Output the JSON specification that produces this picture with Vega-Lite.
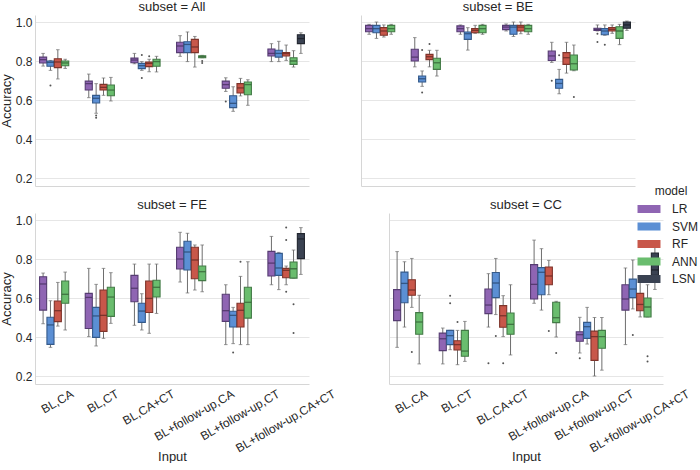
{
  "$schema": "https://vega.github.io/schema/vega-lite/v6.json",
  "padding": {"left": 0, "top": 1, "right": 0, "bottom": 0},
  "background": "white",
  "datasets": {
    "boxes": [
      {"subset":"All","input":"BL,CA","model":"LR","lo":0.774,"q1":0.79,"median":0.807,"q3":0.82,"hi":0.839},
      {"subset":"All","input":"BL,CA","model":"SVM","lo":0.752,"q1":0.773,"median":0.793,"q3":0.8,"hi":0.803},
      {"subset":"All","input":"BL,CA","model":"RF","lo":0.708,"q1":0.766,"median":0.795,"q3":0.812,"hi":0.858},
      {"subset":"All","input":"BL,CA","model":"ANN","lo":0.762,"q1":0.776,"median":0.79,"q3":0.8,"hi":0.809},
      {"subset":"All","input":"BL,CT","model":"LR","lo":0.612,"q1":0.651,"median":0.684,"q3":0.697,"hi":0.733},
      {"subset":"All","input":"BL,CT","model":"SVM","lo":0.532,"q1":0.585,"median":0.609,"q3":0.624,"hi":0.684},
      {"subset":"All","input":"BL,CT","model":"RF","lo":0.624,"q1":0.651,"median":0.665,"q3":0.68,"hi":0.713},
      {"subset":"All","input":"BL,CT","model":"ANN","lo":0.595,"q1":0.622,"median":0.651,"q3":0.677,"hi":0.716},
      {"subset":"All","input":"BL,CA+CT","model":"LR","lo":0.786,"q1":0.791,"median":0.805,"q3":0.815,"hi":0.839},
      {"subset":"All","input":"BL,CA+CT","model":"SVM","lo":0.752,"q1":0.761,"median":0.776,"q3":0.788,"hi":0.797},
      {"subset":"All","input":"BL,CA+CT","model":"RF","lo":0.745,"q1":0.771,"median":0.788,"q3":0.795,"hi":0.809},
      {"subset":"All","input":"BL,CA+CT","model":"ANN","lo":0.744,"q1":0.773,"median":0.797,"q3":0.809,"hi":0.824},
      {"subset":"All","input":"BL+follow-up,CA","model":"LR","lo":0.824,"q1":0.843,"median":0.877,"q3":0.896,"hi":0.93},
      {"subset":"All","input":"BL+follow-up,CA","model":"SVM","lo":0.797,"q1":0.843,"median":0.885,"q3":0.899,"hi":0.949},
      {"subset":"All","input":"BL+follow-up,CA","model":"RF","lo":0.769,"q1":0.843,"median":0.872,"q3":0.911,"hi":0.926},
      {"subset":"All","input":"BL+follow-up,CA","model":"ANN","lo":0.817,"q1":0.817,"median":0.822,"q3":0.827,"hi":0.829},
      {"subset":"All","input":"BL+follow-up,CT","model":"LR","lo":0.644,"q1":0.66,"median":0.679,"q3":0.697,"hi":0.714},
      {"subset":"All","input":"BL+follow-up,CT","model":"SVM","lo":0.542,"q1":0.561,"median":0.583,"q3":0.622,"hi":0.668},
      {"subset":"All","input":"BL+follow-up,CT","model":"RF","lo":0.621,"q1":0.636,"median":0.662,"q3":0.684,"hi":0.711},
      {"subset":"All","input":"BL+follow-up,CT","model":"ANN","lo":0.573,"q1":0.627,"median":0.679,"q3":0.692,"hi":0.704},
      {"subset":"All","input":"BL+follow-up,CA+CT","model":"LR","lo":0.797,"q1":0.826,"median":0.839,"q3":0.862,"hi":0.889},
      {"subset":"All","input":"BL+follow-up,CA+CT","model":"SVM","lo":0.797,"q1":0.82,"median":0.839,"q3":0.855,"hi":0.901},
      {"subset":"All","input":"BL+follow-up,CA+CT","model":"RF","lo":0.803,"q1":0.826,"median":0.838,"q3":0.844,"hi":0.882},
      {"subset":"All","input":"BL+follow-up,CA+CT","model":"ANN","lo":0.769,"q1":0.783,"median":0.8,"q3":0.817,"hi":0.853},
      {"subset":"All","input":"BL+follow-up,CA+CT","model":"LSN","lo":0.839,"q1":0.889,"median":0.915,"q3":0.935,"hi":0.945},

      {"subset":"BE","input":"BL,CA","model":"LR","lo":0.937,"q1":0.95,"median":0.966,"q3":0.983,"hi":0.988},
      {"subset":"BE","input":"BL,CA","model":"SVM","lo":0.916,"q1":0.945,"median":0.966,"q3":0.983,"hi":1.0},
      {"subset":"BE","input":"BL,CA","model":"RF","lo":0.923,"q1":0.932,"median":0.954,"q3":0.971,"hi":0.985},
      {"subset":"BE","input":"BL,CA","model":"ANN","lo":0.937,"q1":0.95,"median":0.966,"q3":0.983,"hi":0.988},
      {"subset":"BE","input":"BL,CT","model":"LR","lo":0.77,"q1":0.8,"median":0.82,"q3":0.86,"hi":0.92},
      {"subset":"BE","input":"BL,CT","model":"SVM","lo":0.67,"q1":0.692,"median":0.709,"q3":0.723,"hi":0.749},
      {"subset":"BE","input":"BL,CT","model":"RF","lo":0.77,"q1":0.807,"median":0.822,"q3":0.834,"hi":0.855},
      {"subset":"BE","input":"BL,CT","model":"ANN","lo":0.723,"q1":0.757,"median":0.791,"q3":0.814,"hi":0.855},
      {"subset":"BE","input":"BL,CA+CT","model":"LR","lo":0.937,"q1":0.95,"median":0.966,"q3":0.98,"hi":0.985},
      {"subset":"BE","input":"BL,CA+CT","model":"SVM","lo":0.856,"q1":0.911,"median":0.94,"q3":0.949,"hi":0.971},
      {"subset":"BE","input":"BL,CA+CT","model":"RF","lo":0.942,"q1":0.945,"median":0.957,"q3":0.966,"hi":0.983},
      {"subset":"BE","input":"BL,CA+CT","model":"ANN","lo":0.937,"q1":0.945,"median":0.966,"q3":0.983,"hi":0.988},
      {"subset":"BE","input":"BL+follow-up,CA","model":"LR","lo":0.954,"q1":0.961,"median":0.974,"q3":0.983,"hi":0.99},
      {"subset":"BE","input":"BL+follow-up,CA","model":"SVM","lo":0.926,"q1":0.937,"median":0.974,"q3":0.983,"hi":1.0},
      {"subset":"BE","input":"BL+follow-up,CA","model":"RF","lo":0.94,"q1":0.954,"median":0.974,"q3":0.983,"hi":1.0},
      {"subset":"BE","input":"BL+follow-up,CA","model":"ANN","lo":0.937,"q1":0.95,"median":0.966,"q3":0.983,"hi":0.988},
      {"subset":"BE","input":"BL+follow-up,CT","model":"LR","lo":0.793,"q1":0.803,"median":0.826,"q3":0.851,"hi":0.896},
      {"subset":"BE","input":"BL+follow-up,CT","model":"SVM","lo":0.632,"q1":0.66,"median":0.685,"q3":0.706,"hi":0.757},
      {"subset":"BE","input":"BL+follow-up,CT","model":"RF","lo":0.738,"q1":0.783,"median":0.817,"q3":0.843,"hi":0.896},
      {"subset":"BE","input":"BL+follow-up,CT","model":"ANN","lo":0.75,"q1":0.754,"median":0.786,"q3":0.831,"hi":0.882},
      {"subset":"BE","input":"BL+follow-up,CA+CT","model":"LR","lo":0.954,"q1":0.957,"median":0.962,"q3":0.968,"hi":0.985},
      {"subset":"BE","input":"BL+follow-up,CA+CT","model":"SVM","lo":0.932,"q1":0.935,"median":0.954,"q3":0.966,"hi":0.985},
      {"subset":"BE","input":"BL+follow-up,CA+CT","model":"RF","lo":0.942,"q1":0.954,"median":0.962,"q3":0.971,"hi":0.985},
      {"subset":"BE","input":"BL+follow-up,CA+CT","model":"ANN","lo":0.884,"q1":0.916,"median":0.954,"q3":0.976,"hi":0.988},
      {"subset":"BE","input":"BL+follow-up,CA+CT","model":"LSN","lo":0.957,"q1":0.968,"median":0.985,"q3":1.0,"hi":1.005},

      {"subset":"FE","input":"BL,CA","model":"LR","lo":0.468,"q1":0.538,"median":0.672,"q3":0.709,"hi":0.728},
      {"subset":"FE","input":"BL,CA","model":"SVM","lo":0.347,"q1":0.362,"median":0.462,"q3":0.501,"hi":0.586},
      {"subset":"FE","input":"BL,CA","model":"RF","lo":0.456,"q1":0.479,"median":0.535,"q3":0.585,"hi":0.68},
      {"subset":"FE","input":"BL,CA","model":"ANN","lo":0.436,"q1":0.573,"median":0.619,"q3":0.687,"hi":0.733},
      {"subset":"FE","input":"BL,CT","model":"LR","lo":0.402,"q1":0.444,"median":0.603,"q3":0.624,"hi":0.752},
      {"subset":"FE","input":"BL,CT","model":"SVM","lo":0.354,"q1":0.398,"median":0.508,"q3":0.552,"hi":0.67},
      {"subset":"FE","input":"BL,CT","model":"RF","lo":0.393,"q1":0.429,"median":0.511,"q3":0.641,"hi":0.752},
      {"subset":"FE","input":"BL,CT","model":"ANN","lo":0.47,"q1":0.506,"median":0.605,"q3":0.655,"hi":0.73},
      {"subset":"FE","input":"BL,CA+CT","model":"LR","lo":0.46,"q1":0.581,"median":0.65,"q3":0.716,"hi":0.774},
      {"subset":"FE","input":"BL,CA+CT","model":"SVM","lo":0.436,"q1":0.475,"median":0.533,"q3":0.573,"hi":0.622},
      {"subset":"FE","input":"BL,CA+CT","model":"RF","lo":0.419,"q1":0.526,"median":0.598,"q3":0.687,"hi":0.774},
      {"subset":"FE","input":"BL,CA+CT","model":"ANN","lo":0.521,"q1":0.605,"median":0.655,"q3":0.691,"hi":0.774},
      {"subset":"FE","input":"BL+follow-up,CA","model":"LR","lo":0.682,"q1":0.749,"median":0.8,"q3":0.86,"hi":0.937},
      {"subset":"FE","input":"BL+follow-up,CA","model":"SVM","lo":0.626,"q1":0.744,"median":0.836,"q3":0.891,"hi":0.932},
      {"subset":"FE","input":"BL+follow-up,CA","model":"RF","lo":0.641,"q1":0.699,"median":0.795,"q3":0.86,"hi":0.872},
      {"subset":"FE","input":"BL+follow-up,CA","model":"ANN","lo":0.632,"q1":0.689,"median":0.735,"q3":0.764,"hi":0.872},
      {"subset":"FE","input":"BL+follow-up,CT","model":"LR","lo":0.361,"q1":0.48,"median":0.535,"q3":0.619,"hi":0.668},
      {"subset":"FE","input":"BL+follow-up,CT","model":"SVM","lo":0.366,"q1":0.451,"median":0.511,"q3":0.532,"hi":0.552},
      {"subset":"FE","input":"BL+follow-up,CT","model":"RF","lo":0.361,"q1":0.451,"median":0.537,"q3":0.573,"hi":0.711},
      {"subset":"FE","input":"BL+follow-up,CT","model":"ANN","lo":0.361,"q1":0.497,"median":0.578,"q3":0.655,"hi":0.786},
      {"subset":"FE","input":"BL+follow-up,CA+CT","model":"LR","lo":0.668,"q1":0.713,"median":0.779,"q3":0.839,"hi":0.916},
      {"subset":"FE","input":"BL+follow-up,CA+CT","model":"SVM","lo":0.643,"q1":0.716,"median":0.754,"q3":0.829,"hi":0.834},
      {"subset":"FE","input":"BL+follow-up,CA+CT","model":"RF","lo":0.668,"q1":0.704,"median":0.742,"q3":0.752,"hi":0.764},
      {"subset":"FE","input":"BL+follow-up,CA+CT","model":"ANN","lo":0.702,"q1":0.702,"median":0.75,"q3":0.785,"hi":0.846},
      {"subset":"FE","input":"BL+follow-up,CA+CT","model":"LSN","lo":0.721,"q1":0.802,"median":0.903,"q3":0.93,"hi":0.961},

      {"subset":"CC","input":"BL,CA","model":"LR","lo":0.347,"q1":0.484,"median":0.538,"q3":0.643,"hi":0.838},
      {"subset":"CC","input":"BL,CA","model":"SVM","lo":0.451,"q1":0.576,"median":0.675,"q3":0.733,"hi":0.786},
      {"subset":"CC","input":"BL,CA","model":"RF","lo":0.552,"q1":0.614,"median":0.641,"q3":0.694,"hi":0.803},
      {"subset":"CC","input":"BL,CA","model":"ANN","lo":0.262,"q1":0.414,"median":0.477,"q3":0.525,"hi":0.614},
      {"subset":"CC","input":"BL,CT","model":"LR","lo":0.262,"q1":0.33,"median":0.391,"q3":0.42,"hi":0.446},
      {"subset":"CC","input":"BL,CT","model":"SVM","lo":0.335,"q1":0.361,"median":0.407,"q3":0.434,"hi":0.434},
      {"subset":"CC","input":"BL,CT","model":"RF","lo":0.258,"q1":0.333,"median":0.361,"q3":0.381,"hi":0.434},
      {"subset":"CC","input":"BL,CT","model":"ANN","lo":0.275,"q1":0.301,"median":0.328,"q3":0.434,"hi":0.48},
      {"subset":"CC","input":"BL,CA+CT","model":"LR","lo":0.451,"q1":0.52,"median":0.564,"q3":0.646,"hi":0.725},
      {"subset":"CC","input":"BL,CA+CT","model":"SVM","lo":0.515,"q1":0.602,"median":0.677,"q3":0.731,"hi":0.803},
      {"subset":"CC","input":"BL,CA+CT","model":"RF","lo":0.402,"q1":0.45,"median":0.509,"q3":0.561,"hi":0.612},
      {"subset":"CC","input":"BL,CA+CT","model":"ANN","lo":0.308,"q1":0.414,"median":0.465,"q3":0.523,"hi":0.668},
      {"subset":"CC","input":"BL+follow-up,CA","model":"LR","lo":0.573,"q1":0.595,"median":0.67,"q3":0.771,"hi":0.897},
      {"subset":"CC","input":"BL+follow-up,CA","model":"SVM","lo":0.538,"q1":0.617,"median":0.732,"q3":0.756,"hi":0.853},
      {"subset":"CC","input":"BL+follow-up,CA","model":"RF","lo":0.617,"q1":0.668,"median":0.713,"q3":0.759,"hi":0.793},
      {"subset":"CC","input":"BL+follow-up,CA","model":"ANN","lo":0.4,"q1":0.474,"median":0.499,"q3":0.578,"hi":0.583},
      {"subset":"CC","input":"BL+follow-up,CT","model":"LR","lo":0.318,"q1":0.378,"median":0.412,"q3":0.427,"hi":0.501},
      {"subset":"CC","input":"BL+follow-up,CT","model":"SVM","lo":0.364,"q1":0.393,"median":0.453,"q3":0.475,"hi":0.552},
      {"subset":"CC","input":"BL+follow-up,CT","model":"RF","lo":0.2,"q1":0.28,"median":0.402,"q3":0.43,"hi":0.5},
      {"subset":"CC","input":"BL+follow-up,CT","model":"ANN","lo":0.23,"q1":0.342,"median":0.402,"q3":0.434,"hi":0.5},
      {"subset":"CC","input":"BL+follow-up,CA+CT","model":"LR","lo":0.361,"q1":0.538,"median":0.595,"q3":0.668,"hi":0.754},
      {"subset":"CC","input":"BL+follow-up,CA+CT","model":"SVM","lo":0.544,"q1":0.602,"median":0.646,"q3":0.697,"hi":0.795},
      {"subset":"CC","input":"BL+follow-up,CA+CT","model":"RF","lo":0.503,"q1":0.535,"median":0.567,"q3":0.624,"hi":0.68},
      {"subset":"CC","input":"BL+follow-up,CA+CT","model":"ANN","lo":0.503,"q1":0.503,"median":0.554,"q3":0.6,"hi":0.668},
      {"subset":"CC","input":"BL+follow-up,CA+CT","model":"LSN","lo":0.644,"q1":0.716,"median":0.744,"q3":0.831,"hi":0.86}
    ],
    "outliers": [
      {"subset":"All","input":"BL,CA","model":"SVM","v":0.674},
      {"subset":"All","input":"BL,CT","model":"SVM","v":0.521},
      {"subset":"All","input":"BL,CT","model":"SVM","v":0.509},
      {"subset":"All","input":"BL,CA+CT","model":"SVM","v":0.831},
      {"subset":"All","input":"BL,CA+CT","model":"SVM","v":0.713},
      {"subset":"All","input":"BL,CA+CT","model":"RF","v":0.824},
      {"subset":"All","input":"BL+follow-up,CA","model":"ANN","v":0.8},
      {"subset":"All","input":"BL+follow-up,CA","model":"ANN","v":0.79},
      {"subset":"All","input":"BL+follow-up,CT","model":"LR","v":0.593},
      {"subset":"BE","input":"BL,CT","model":"SVM","v":0.856},
      {"subset":"BE","input":"BL,CT","model":"SVM","v":0.639},
      {"subset":"BE","input":"BL,CT","model":"RF","v":0.887},
      {"subset":"BE","input":"BL+follow-up,CT","model":"LR","v":0.699},
      {"subset":"BE","input":"BL+follow-up,CT","model":"SVM","v":0.829},
      {"subset":"BE","input":"BL+follow-up,CT","model":"ANN","v":0.615},
      {"subset":"BE","input":"BL+follow-up,CA+CT","model":"LR","v":0.94},
      {"subset":"BE","input":"BL+follow-up,CA+CT","model":"LR","v":0.897},
      {"subset":"BE","input":"BL+follow-up,CA+CT","model":"SVM","v":0.884},
      {"subset":"FE","input":"BL+follow-up,CT","model":"SVM","v":0.32},
      {"subset":"FE","input":"BL+follow-up,CT","model":"RF","v":0.786},
      {"subset":"FE","input":"BL+follow-up,CA+CT","model":"RF","v":0.961},
      {"subset":"FE","input":"BL+follow-up,CA+CT","model":"RF","v":0.897},
      {"subset":"FE","input":"BL+follow-up,CA+CT","model":"RF","v":0.632},
      {"subset":"FE","input":"BL+follow-up,CA+CT","model":"ANN","v":0.568},
      {"subset":"FE","input":"BL+follow-up,CA+CT","model":"ANN","v":0.42},
      {"subset":"CC","input":"BL,CA","model":"RF","v":0.323},
      {"subset":"CC","input":"BL,CT","model":"SVM","v":0.612},
      {"subset":"CC","input":"BL,CT","model":"SVM","v":0.573},
      {"subset":"CC","input":"BL,CT","model":"RF","v":0.477},
      {"subset":"CC","input":"BL,CA+CT","model":"LR","v":0.265},
      {"subset":"CC","input":"BL,CA+CT","model":"SVM","v":0.405},
      {"subset":"CC","input":"BL,CA+CT","model":"RF","v":0.265},
      {"subset":"CC","input":"BL+follow-up,CA","model":"RF","v":0.431},
      {"subset":"CC","input":"BL+follow-up,CA","model":"ANN","v":0.318},
      {"subset":"CC","input":"BL+follow-up,CT","model":"LR","v":0.291},
      {"subset":"CC","input":"BL+follow-up,CA+CT","model":"SVM","v":0.41},
      {"subset":"CC","input":"BL+follow-up,CA+CT","model":"ANN","v":0.301},
      {"subset":"CC","input":"BL+follow-up,CA+CT","model":"ANN","v":0.275}
    ]
  },
  "vconcat": [
    {"hconcat": [
      {"width": 274, "height": 171, "title": "subset = All",
       "layer": [
        {"data": {"name": "boxes"}, "transform": [{"filter": "datum.subset === 'All'"}],
         "mark": {"type": "rule", "color": "#6e6e6e", "strokeWidth": 1},
         "encoding": {
           "x": {"field": "input", "type": "nominal", "sort": ["BL,CA","BL,CT","BL,CA+CT","BL+follow-up,CA","BL+follow-up,CT","BL+follow-up,CA+CT"], "scale": {"domain": ["BL,CA","BL,CT","BL,CA+CT","BL+follow-up,CA","BL+follow-up,CT","BL+follow-up,CA+CT"], "paddingInner": 0.2, "paddingOuter": 0.1}, "axis": {"labels": false, "title": null, "grid": false}},
           "xOffset": {"field": "model", "type": "nominal", "scale": {"domain": ["LR","SVM","RF","ANN","LSN"], "paddingInner": 0.04, "paddingOuter": 0}},
           "y": {"field": "lo", "type": "quantitative", "scale": {"domain": [0.159, 1.036], "nice": false, "zero": false}, "axis": {"title": "Accuracy", "values": [0.2,0.4,0.6,0.8,1.0], "format": ".1f", "grid": true}},
           "y2": {"field": "hi"}}},
        {"data": {"name": "boxes"}, "transform": [{"filter": "datum.subset === 'All'"}],
         "mark": {"type": "tick", "color": "#6e6e6e", "size": 3.6, "thickness": 1},
         "encoding": {"x": {"field": "input", "type": "nominal"}, "xOffset": {"field": "model", "type": "nominal"}, "y": {"field": "lo", "type": "quantitative"}}},
        {"data": {"name": "boxes"}, "transform": [{"filter": "datum.subset === 'All'"}],
         "mark": {"type": "tick", "color": "#6e6e6e", "size": 3.6, "thickness": 1},
         "encoding": {"x": {"field": "input", "type": "nominal"}, "xOffset": {"field": "model", "type": "nominal"}, "y": {"field": "hi", "type": "quantitative"}}},
        {"data": {"name": "boxes"}, "transform": [{"filter": "datum.subset === 'All'"}],
         "mark": {"type": "bar", "strokeWidth": 1.1, "opacity": 1},
         "encoding": {"x": {"field": "input", "type": "nominal"}, "xOffset": {"field": "model", "type": "nominal"},
           "y": {"field": "q1", "type": "quantitative"}, "y2": {"field": "q3"},
           "color": {"field": "model", "type": "nominal", "scale": {"domain": ["LR","SVM","RF","ANN","LSN"], "range": ["#8f65b3","#5b8fd4","#c8574a","#6abd6e","#3a4252"]}, "legend": {"title": "model"}},
           "stroke": {"field": "model", "type": "nominal", "scale": {"domain": ["LR","SVM","RF","ANN","LSN"], "range": ["#563c72","#345a8a","#7e342b","#437a46","#22262f"]}, "legend": null}}},
        {"data": {"name": "boxes"}, "transform": [{"filter": "datum.subset === 'All'"}],
         "mark": {"type": "tick", "size": 6.8, "thickness": 1.3},
         "encoding": {"x": {"field": "input", "type": "nominal"}, "xOffset": {"field": "model", "type": "nominal"}, "y": {"field": "median", "type": "quantitative"},
           "fill": {"field": "model", "type": "nominal", "scale": {"domain": ["LR","SVM","RF","ANN","LSN"], "range": ["#3e2a55","#243f63","#5a241e","#2f5731","#15181f"]}, "legend": null}}},
        {"data": {"name": "outliers"}, "transform": [{"filter": "datum.subset === 'All'"}],
         "mark": {"type": "circle", "size": 4, "color": "#555555", "opacity": 1},
         "encoding": {"x": {"field": "input", "type": "nominal"}, "xOffset": {"field": "model", "type": "nominal"}, "y": {"field": "v", "type": "quantitative"}}}
       ]},
      {"width": 274, "height": 171, "title": "subset = BE",
       "layer": [
        {"data": {"name": "boxes"}, "transform": [{"filter": "datum.subset === 'BE'"}],
         "mark": {"type": "rule", "color": "#6e6e6e", "strokeWidth": 1},
         "encoding": {
           "x": {"field": "input", "type": "nominal", "sort": ["BL,CA","BL,CT","BL,CA+CT","BL+follow-up,CA","BL+follow-up,CT","BL+follow-up,CA+CT"], "scale": {"domain": ["BL,CA","BL,CT","BL,CA+CT","BL+follow-up,CA","BL+follow-up,CT","BL+follow-up,CA+CT"], "paddingInner": 0.2, "paddingOuter": 0.1}, "axis": {"labels": false, "title": null, "grid": false}},
           "xOffset": {"field": "model", "type": "nominal", "scale": {"domain": ["LR","SVM","RF","ANN","LSN"], "paddingInner": 0.04, "paddingOuter": 0}},
           "y": {"field": "lo", "type": "quantitative", "scale": {"domain": [0.159, 1.036], "nice": false, "zero": false}, "axis": {"title": null, "labels": false, "values": [0.2,0.4,0.6,0.8,1.0], "grid": true}},
           "y2": {"field": "hi"}}},
        {"data": {"name": "boxes"}, "transform": [{"filter": "datum.subset === 'BE'"}],
         "mark": {"type": "tick", "color": "#6e6e6e", "size": 3.6, "thickness": 1},
         "encoding": {"x": {"field": "input", "type": "nominal"}, "xOffset": {"field": "model", "type": "nominal"}, "y": {"field": "lo", "type": "quantitative"}}},
        {"data": {"name": "boxes"}, "transform": [{"filter": "datum.subset === 'BE'"}],
         "mark": {"type": "tick", "color": "#6e6e6e", "size": 3.6, "thickness": 1},
         "encoding": {"x": {"field": "input", "type": "nominal"}, "xOffset": {"field": "model", "type": "nominal"}, "y": {"field": "hi", "type": "quantitative"}}},
        {"data": {"name": "boxes"}, "transform": [{"filter": "datum.subset === 'BE'"}],
         "mark": {"type": "bar", "strokeWidth": 1.1, "opacity": 1},
         "encoding": {"x": {"field": "input", "type": "nominal"}, "xOffset": {"field": "model", "type": "nominal"},
           "y": {"field": "q1", "type": "quantitative"}, "y2": {"field": "q3"},
           "color": {"field": "model", "type": "nominal", "scale": {"domain": ["LR","SVM","RF","ANN","LSN"], "range": ["#8f65b3","#5b8fd4","#c8574a","#6abd6e","#3a4252"]}, "legend": {"title": "model"}},
           "stroke": {"field": "model", "type": "nominal", "scale": {"domain": ["LR","SVM","RF","ANN","LSN"], "range": ["#563c72","#345a8a","#7e342b","#437a46","#22262f"]}, "legend": null}}},
        {"data": {"name": "boxes"}, "transform": [{"filter": "datum.subset === 'BE'"}],
         "mark": {"type": "tick", "size": 6.8, "thickness": 1.3},
         "encoding": {"x": {"field": "input", "type": "nominal"}, "xOffset": {"field": "model", "type": "nominal"}, "y": {"field": "median", "type": "quantitative"},
           "fill": {"field": "model", "type": "nominal", "scale": {"domain": ["LR","SVM","RF","ANN","LSN"], "range": ["#3e2a55","#243f63","#5a241e","#2f5731","#15181f"]}, "legend": null}}},
        {"data": {"name": "outliers"}, "transform": [{"filter": "datum.subset === 'BE'"}],
         "mark": {"type": "circle", "size": 4, "color": "#555555", "opacity": 1},
         "encoding": {"x": {"field": "input", "type": "nominal"}, "xOffset": {"field": "model", "type": "nominal"}, "y": {"field": "v", "type": "quantitative"}}}
       ]}
    ], "spacing": 52},
    {"hconcat": [
      {"width": 274, "height": 171, "title": "subset = FE",
       "layer": [
        {"data": {"name": "boxes"}, "transform": [{"filter": "datum.subset === 'FE'"}],
         "mark": {"type": "rule", "color": "#6e6e6e", "strokeWidth": 1},
         "encoding": {
           "x": {"field": "input", "type": "nominal", "sort": ["BL,CA","BL,CT","BL,CA+CT","BL+follow-up,CA","BL+follow-up,CT","BL+follow-up,CA+CT"], "scale": {"domain": ["BL,CA","BL,CT","BL,CA+CT","BL+follow-up,CA","BL+follow-up,CT","BL+follow-up,CA+CT"], "paddingInner": 0.2, "paddingOuter": 0.1},
             "axis": {"title": "Input", "grid": false, "labelAngle": -30, "labelAlign": "right", "labelBaseline": "top", "titleY": 72, "titleBaseline": "middle", "labelPadding": 4,
               "labelOffset": {"condition": [{"test": "datum.value === 'BL,CA'", "value": 12.0}, {"test": "datum.value === 'BL,CT'", "value": 11.7}, {"test": "datum.value === 'BL,CA+CT'", "value": 22.0}, {"test": "datum.value === 'BL+follow-up,CA'", "value": 35.8}, {"test": "datum.value === 'BL+follow-up,CT'", "value": 35.5}], "value": 45.8}}},
           "xOffset": {"field": "model", "type": "nominal", "scale": {"domain": ["LR","SVM","RF","ANN","LSN"], "paddingInner": 0.04, "paddingOuter": 0}},
           "y": {"field": "lo", "type": "quantitative", "scale": {"domain": [0.159, 1.036], "nice": false, "zero": false}, "axis": {"title": "Accuracy", "values": [0.2,0.4,0.6,0.8,1.0], "format": ".1f", "grid": true}},
           "y2": {"field": "hi"}}},
        {"data": {"name": "boxes"}, "transform": [{"filter": "datum.subset === 'FE'"}],
         "mark": {"type": "tick", "color": "#6e6e6e", "size": 3.6, "thickness": 1},
         "encoding": {"x": {"field": "input", "type": "nominal"}, "xOffset": {"field": "model", "type": "nominal"}, "y": {"field": "lo", "type": "quantitative"}}},
        {"data": {"name": "boxes"}, "transform": [{"filter": "datum.subset === 'FE'"}],
         "mark": {"type": "tick", "color": "#6e6e6e", "size": 3.6, "thickness": 1},
         "encoding": {"x": {"field": "input", "type": "nominal"}, "xOffset": {"field": "model", "type": "nominal"}, "y": {"field": "hi", "type": "quantitative"}}},
        {"data": {"name": "boxes"}, "transform": [{"filter": "datum.subset === 'FE'"}],
         "mark": {"type": "bar", "strokeWidth": 1.1, "opacity": 1},
         "encoding": {"x": {"field": "input", "type": "nominal"}, "xOffset": {"field": "model", "type": "nominal"},
           "y": {"field": "q1", "type": "quantitative"}, "y2": {"field": "q3"},
           "color": {"field": "model", "type": "nominal", "scale": {"domain": ["LR","SVM","RF","ANN","LSN"], "range": ["#8f65b3","#5b8fd4","#c8574a","#6abd6e","#3a4252"]}, "legend": {"title": "model"}},
           "stroke": {"field": "model", "type": "nominal", "scale": {"domain": ["LR","SVM","RF","ANN","LSN"], "range": ["#563c72","#345a8a","#7e342b","#437a46","#22262f"]}, "legend": null}}},
        {"data": {"name": "boxes"}, "transform": [{"filter": "datum.subset === 'FE'"}],
         "mark": {"type": "tick", "size": 6.8, "thickness": 1.3},
         "encoding": {"x": {"field": "input", "type": "nominal"}, "xOffset": {"field": "model", "type": "nominal"}, "y": {"field": "median", "type": "quantitative"},
           "fill": {"field": "model", "type": "nominal", "scale": {"domain": ["LR","SVM","RF","ANN","LSN"], "range": ["#3e2a55","#243f63","#5a241e","#2f5731","#15181f"]}, "legend": null}}},
        {"data": {"name": "outliers"}, "transform": [{"filter": "datum.subset === 'FE'"}],
         "mark": {"type": "circle", "size": 4, "color": "#555555", "opacity": 1},
         "encoding": {"x": {"field": "input", "type": "nominal"}, "xOffset": {"field": "model", "type": "nominal"}, "y": {"field": "v", "type": "quantitative"}}}
       ]},
      {"width": 274, "height": 171, "title": "subset = CC",
       "layer": [
        {"data": {"name": "boxes"}, "transform": [{"filter": "datum.subset === 'CC'"}],
         "mark": {"type": "rule", "color": "#6e6e6e", "strokeWidth": 1},
         "encoding": {
           "x": {"field": "input", "type": "nominal", "sort": ["BL,CA","BL,CT","BL,CA+CT","BL+follow-up,CA","BL+follow-up,CT","BL+follow-up,CA+CT"], "scale": {"domain": ["BL,CA","BL,CT","BL,CA+CT","BL+follow-up,CA","BL+follow-up,CT","BL+follow-up,CA+CT"], "paddingInner": 0.2, "paddingOuter": 0.1},
             "axis": {"title": "Input", "grid": false, "labelAngle": -30, "labelAlign": "right", "labelBaseline": "top", "titleY": 72, "titleBaseline": "middle", "labelPadding": 4,
               "labelOffset": {"condition": [{"test": "datum.value === 'BL,CA'", "value": 12.0}, {"test": "datum.value === 'BL,CT'", "value": 11.7}, {"test": "datum.value === 'BL,CA+CT'", "value": 22.0}, {"test": "datum.value === 'BL+follow-up,CA'", "value": 35.8}, {"test": "datum.value === 'BL+follow-up,CT'", "value": 35.5}], "value": 45.8}}},
           "xOffset": {"field": "model", "type": "nominal", "scale": {"domain": ["LR","SVM","RF","ANN","LSN"], "paddingInner": 0.04, "paddingOuter": 0}},
           "y": {"field": "lo", "type": "quantitative", "scale": {"domain": [0.159, 1.036], "nice": false, "zero": false}, "axis": {"title": null, "labels": false, "values": [0.2,0.4,0.6,0.8,1.0], "grid": true}},
           "y2": {"field": "hi"}}},
        {"data": {"name": "boxes"}, "transform": [{"filter": "datum.subset === 'CC'"}],
         "mark": {"type": "tick", "color": "#6e6e6e", "size": 3.6, "thickness": 1},
         "encoding": {"x": {"field": "input", "type": "nominal"}, "xOffset": {"field": "model", "type": "nominal"}, "y": {"field": "lo", "type": "quantitative"}}},
        {"data": {"name": "boxes"}, "transform": [{"filter": "datum.subset === 'CC'"}],
         "mark": {"type": "tick", "color": "#6e6e6e", "size": 3.6, "thickness": 1},
         "encoding": {"x": {"field": "input", "type": "nominal"}, "xOffset": {"field": "model", "type": "nominal"}, "y": {"field": "hi", "type": "quantitative"}}},
        {"data": {"name": "boxes"}, "transform": [{"filter": "datum.subset === 'CC'"}],
         "mark": {"type": "bar", "strokeWidth": 1.1, "opacity": 1},
         "encoding": {"x": {"field": "input", "type": "nominal"}, "xOffset": {"field": "model", "type": "nominal"},
           "y": {"field": "q1", "type": "quantitative"}, "y2": {"field": "q3"},
           "color": {"field": "model", "type": "nominal", "scale": {"domain": ["LR","SVM","RF","ANN","LSN"], "range": ["#8f65b3","#5b8fd4","#c8574a","#6abd6e","#3a4252"]}, "legend": {"title": "model"}},
           "stroke": {"field": "model", "type": "nominal", "scale": {"domain": ["LR","SVM","RF","ANN","LSN"], "range": ["#563c72","#345a8a","#7e342b","#437a46","#22262f"]}, "legend": null}}},
        {"data": {"name": "boxes"}, "transform": [{"filter": "datum.subset === 'CC'"}],
         "mark": {"type": "tick", "size": 6.8, "thickness": 1.3},
         "encoding": {"x": {"field": "input", "type": "nominal"}, "xOffset": {"field": "model", "type": "nominal"}, "y": {"field": "median", "type": "quantitative"},
           "fill": {"field": "model", "type": "nominal", "scale": {"domain": ["LR","SVM","RF","ANN","LSN"], "range": ["#3e2a55","#243f63","#5a241e","#2f5731","#15181f"]}, "legend": null}}},
        {"data": {"name": "outliers"}, "transform": [{"filter": "datum.subset === 'CC'"}],
         "mark": {"type": "circle", "size": 4, "color": "#555555", "opacity": 1},
         "encoding": {"x": {"field": "input", "type": "nominal"}, "xOffset": {"field": "model", "type": "nominal"}, "y": {"field": "v", "type": "quantitative"}}}
       ]}
    ], "spacing": 52}
  ],
  "spacing": 13,
  "resolve": {"scale": {"color": "shared", "stroke": "shared", "fill": "shared"}},
  "config": {
    "font": "Liberation Sans",
    "view": {"stroke": null},
    "title": {"fontSize": 13, "fontWeight": "normal", "color": "#262626", "offset": 1},
    "axis": {"labelFontSize": 12, "titleFontSize": 13, "titleFontWeight": "normal", "labelColor": "#262626", "titleColor": "#262626", "gridColor": "#e6e6e6", "gridWidth": 1, "domainColor": "#d6d6d6", "ticks": false, "tickSize": 0, "labelOverlap": false},
    "axisY": {"labelPadding": 3, "titlePadding": 2},
    "legend": {
      "orient": "none", "legendX": 608, "legendY": 171,
      "titleFontSize": 12, "titleFontWeight": "normal", "titleColor": "#262626", "titleAnchor": "middle", "titlePadding": 5,
      "labelFontSize": 12, "labelColor": "#262626", "labelOffset": 17,
      "symbolType": "M-2,-0.7H2V0.7H-2Z", "symbolSize": 132, "symbolStrokeWidth": 0, "symbolOpacity": 1, "rowPadding": 5.5, "padding": 0
    }
  }
}
